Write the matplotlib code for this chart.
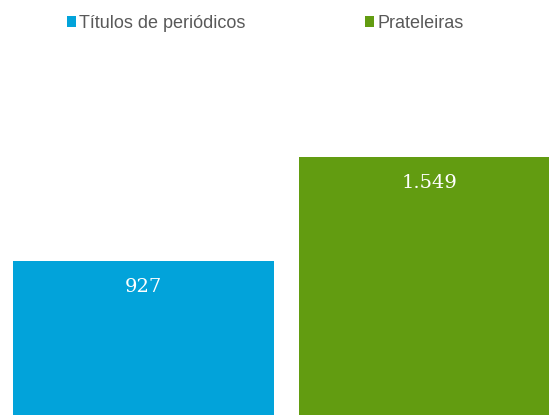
import matplotlib.pyplot as plt
import numpy as np

categories = ["Títulos de periódicos", "Prateleiras"]
values = [927, 1549]
labels = ["927", "1.549"]
colors = ["#02A3DA", "#629C11"]

fig = plt.figure(figsize=(5.49, 4.15), dpi=100)
ax = fig.add_axes([0, 0, 1, 1])

x = np.arange(len(values))
bars = ax.bar(x, values, width=0.9126, color=colors, label=categories)

ax.set_xlim(-0.5017, 1.4178)
ax.set_ylim(0, 2495)
ax.axis("off")

for b, lab in zip(bars, labels):
    ax.annotate(lab, (b.get_x() + b.get_width() / 2, b.get_height()),
                xytext=(0, -26), textcoords="offset pixels",
                ha="center", va="center", color="white",
                fontsize=14, family="DejaVu Serif")

leg = ax.legend(bars, categories, loc="upper center", bbox_to_anchor=(0.483, 1.003),
                ncol=2, frameon=False, handlelength=0.5, handleheight=0.5,
                handletextpad=0.2, columnspacing=6.6,
                prop={"family": "Liberation Sans", "size": 13})
for t in leg.get_texts():
    t.set_color("#595959")

fig.savefig("out.png", dpi=100)
